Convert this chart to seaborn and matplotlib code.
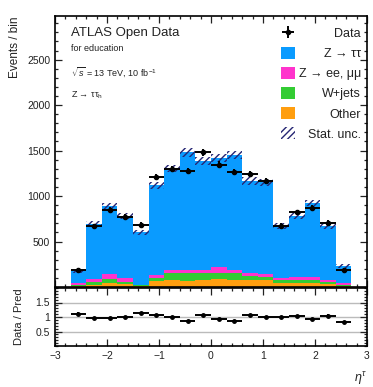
import numpy as np
import pandas as pd
import matplotlib
matplotlib.use("Agg")
import matplotlib.pyplot as plt
from matplotlib.patches import Patch
from matplotlib.ticker import MultipleLocator, FixedLocator
import seaborn as sns

# ---------------- data ----------------
eta_edges = [-2.7, -2.4, -2.1, -1.8, -1.5, -1.2, -0.9, -0.6, -0.3, 0.0,
             0.3, 0.6, 0.9, 1.2, 1.5, 1.8, 2.1, 2.4, 2.7]
data_counts = [190, 668, 852, 771, 687, 1211, 1299, 1273, 1481, 1346,
               1266, 1244, 1163, 676, 822, 870, 705, 190]
ztautau = [127, 602, 745, 685, 575, 990, 1115, 1295, 1200, 1205,
           1260, 1010, 1010, 572, 670, 820, 592, 187]
zll = [25, 35, 55, 35, 5, 30, 35, 30, 35, 60, 35, 35, 30, 20, 35, 30, 20, 25]
wjets = [10, 30, 50, 30, 10, 30, 75, 85, 80, 65, 80, 40, 30, 40, 40, 35, 30, 10]
other = [10, 25, 40, 30, 10, 70, 80, 70, 75, 90, 75, 80, 80, 40, 40, 40, 30, 10]
stat_unc = [15, 30, 35, 30, 30, 40, 40, 45, 45, 45, 45, 40, 40, 30, 35, 35, 30, 18]

process_labels = ["Z → ττ", "Z → ee, μμ", "W+jets", "Other"]
process_colors = ["#0a9bff", "#ff33cc", "#33cc33", "#ff9e0f"]
ratio_ticks = [0.5, 1.0, 1.5]
ratio_ticklabels = ["0.5", "1", "1.5"]

# ---------------- style ----------------
sns.set_theme(style="ticks")
plt.rcParams["font.family"] = ["Liberation Sans", "DejaVu Sans"]
plt.rcParams["mathtext.fontset"] = "custom"
plt.rcParams["mathtext.rm"] = "Liberation Sans"
plt.rcParams["mathtext.it"] = "Liberation Sans:italic"
plt.rcParams["hatch.linewidth"] = 1.0

edges = np.array(eta_edges)
centers = 0.5 * (edges[:-1] + edges[1:])
halfw = 0.5 * np.diff(edges)
data_arr = np.array(data_counts, dtype=float)
mc_total = np.array(ztautau) + np.array(zll) + np.array(wjets) + np.array(other)
unc = np.array(stat_unc, dtype=float)

rows = []
for lab, vals in zip(process_labels, [ztautau, zll, wjets, other]):
    for c, v in zip(centers, vals):
        rows.append({"eta": float(c), "count": float(v), "process": lab})
df = pd.DataFrame(rows)

W, H = 373, 387
fig = plt.figure(figsize=(W / 100, H / 100), dpi=100)
ax = fig.add_axes([55 / W, 1 - 287 / H, 312 / W, 271 / H])
rax = fig.add_axes([55 / W, 1 - 346 / H, 312 / W, 58 / H], sharex=ax)

sns.histplot(data=df, x="eta", weights="count", hue="process",
             hue_order=process_labels, palette=dict(zip(process_labels, process_colors)),
             multiple="stack", bins=list(eta_edges), element="bars", linewidth=0,
             alpha=1, legend=False, ax=ax, shrink=1)

navy = "#262673"
ax.bar(centers, 2 * unc, bottom=mc_total - unc, width=2 * halfw, fill=False,
       hatch="/////", edgecolor=navy, linewidth=0)

eb = ax.errorbar(centers, data_arr, yerr=np.sqrt(data_arr), xerr=halfw, fmt="o",
                 color="black", ms=3, elinewidth=1.4, capsize=0)

ax.set_xlim(-3, 3)
ax.set_ylim(0, 2980)
ax.yaxis.set_major_locator(FixedLocator([500, 1000, 1500, 2000, 2500]))
ax.yaxis.set_minor_locator(MultipleLocator(100))
ax.xaxis.set_major_locator(MultipleLocator(1))
ax.xaxis.set_minor_locator(MultipleLocator(0.2))
ax.tick_params(axis="x", labelbottom=False)
ax.set_xlabel("")
ax.set_ylabel("Events / bin", loc="top", fontsize=8.5, color="#222222")
ax.yaxis.set_label_coords(-0.11, 1.0)

for a in (ax, rax):
    a.tick_params(which="both", direction="in", top=True, right=True,
                  labelsize=7.5, colors="#222222", width=0.9)
    a.tick_params(which="major", length=5)
    a.tick_params(which="minor", length=2.5)
    for s in a.spines.values():
        s.set_linewidth(1.2)
        s.set_color("black")

ax.text(0.05, 0.96, "ATLAS Open Data", transform=ax.transAxes, fontsize=9.5,
        ha="left", va="top", color="#222222")
ax.text(0.05, 0.895, "for education", transform=ax.transAxes, fontsize=6.5,
        ha="left", va="top", color="#222222")
ax.text(0.05, 0.82, r"$\sqrt{s}$ = 13 TeV, 10 fb$^{-1}$", transform=ax.transAxes,
        fontsize=6.5, ha="left", va="top", color="#222222")
ax.text(0.05, 0.728, r"Z → ττ$_{\mathrm{h}}$", transform=ax.transAxes,
        fontsize=6.5, ha="left", va="top", color="#222222")

handles = [eb] + [Patch(facecolor=c, edgecolor="none") for c in process_colors] + \
          [Patch(facecolor="none", edgecolor=navy, hatch="/////", linewidth=0)]
labels = ["Data"] + process_labels + ["Stat. unc."]
leg = ax.legend(handles, labels, loc="upper right", bbox_to_anchor=(0.98, 0.96),
                frameon=False, fontsize=9, handlelength=1.1, handleheight=1.1,
                handletextpad=0.3, labelspacing=0.55, borderaxespad=0, borderpad=0)
for t in leg.get_texts():
    t.set_color("#222222")

# right-align legend labels
fig.canvas.draw()
renderer = fig.canvas.get_renderer()
widths = [t.get_window_extent(renderer).width for t in leg.get_texts()]
maxw = max(widths)
col = leg._legend_handle_box.get_children()[0]
for row, w in zip(col.get_children(), widths):
    row.sep += (maxw - w) * 72.0 / fig.dpi

# ---------------- ratio ----------------
ratio = data_arr / mc_total
ratio_err = np.sqrt(data_arr) / mc_total
for yv in ratio_ticks:
    rax.axhline(yv, color="#bbbbbb", lw=1.0, zorder=0)
rax.errorbar(centers, ratio, yerr=ratio_err, xerr=halfw, fmt="o", color="black",
             ms=2.5, elinewidth=1.4, capsize=0)
rax.set_ylim(0, 2)
rax.set_yticks(ratio_ticks)
rax.set_yticklabels(ratio_ticklabels)
rax.yaxis.set_minor_locator(MultipleLocator(0.1))
rax.set_ylabel("Data / Pred", fontsize=8, color="#222222")
rax.yaxis.set_label_coords(-0.1, 0.5)
rax.set_xlabel(r"$\eta^{\tau}$", fontsize=9, loc="right", color="#222222")
rax.xaxis.set_label_coords(1.0, -0.42)

fig.savefig("out.png", dpi=100, facecolor="white")
